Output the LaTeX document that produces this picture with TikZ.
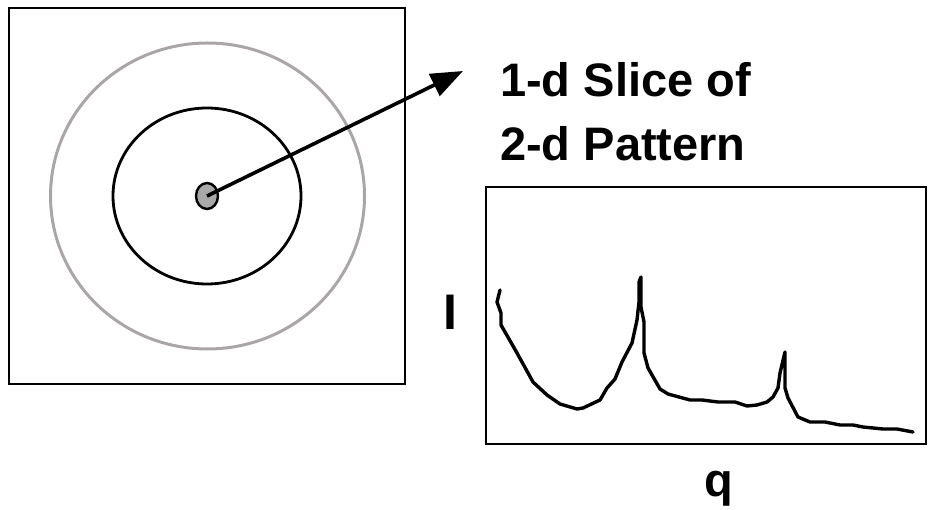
\documentclass[tikz,border=0pt]{standalone}
\usepackage{fontspec}
\setmainfont{Liberation Sans}
\usetikzlibrary{arrows.meta,shapes.geometric}
\definecolor{RingGray}{HTML}{ABA6A6}
\definecolor{SpotGray}{HTML}{A9A9A9}

\begin{document}
\begin{tikzpicture}[x=1pt,y=-1pt,>={Triangle[length=32pt,width=24pt]}]
    \useasboundingbox (0,0) rectangle (928,510);

    % ========== LEFT: 2-D PATTERN ==========
    \draw[line width=2.8pt] (9,8) rectangle (405,384);
    \draw[RingGray, line width=3pt] (207.5,196) ellipse (157 and 153);
    \draw[line width=2.8pt] (207,196) ellipse (94 and 88);
    \node[ellipse, draw, line width=2.4pt, fill=SpotGray, minimum width=22pt,
        minimum height=26pt, inner sep=0pt] (spot) at (207,196) {};

    % Title and pointer
    \node[font=\bfseries\fontsize{47}{64}\selectfont, align=left, anchor=north west,
        inner sep=0pt] (title) at (500,62) {1-d Slice of\\2-d Pattern};
    \coordinate (tip) at (463,71);
    \draw[->, line width=3.6pt] (spot.center) -- (tip);

    % ========== RIGHT: 1-D SLICE ==========
    \draw[line width=2.8pt] (486,187) rectangle (926,444);
    \draw[line width=3.4pt, line join=round, line cap=round]
        (500,290) -- (497,302) -- (501,313) -- (501,325) -- (517,353)
        -- (533,382) -- (547,395) -- (560,404) -- (577,409) -- (583,408)
        -- (600,400) -- (607,388) -- (615,379) -- (622,362) -- (632,343)
        -- (637,320) -- (639,302) -- (639,282) -- (641,277) -- (641,307)
        -- (644,322) -- (644,353) -- (648,368) -- (660,389) -- (668,394)
        -- (690,400) -- (702,400) -- (718,402) -- (735,402) -- (747,406)
        -- (757,405) -- (767,402) -- (773,397) -- (778,388) -- (780,373)
        -- (785,352) -- (785,388) -- (788,398) -- (798,417) -- (810,422)
        -- (825,422) -- (840,425) -- (853,425) -- (863,427) -- (883,429)
        -- (897,429) -- (913,432);

    % Axis labels
    \node[font=\bfseries\fontsize{50}{60}\selectfont, inner sep=0pt] (ilabel) at (450,312) {I};
    \node[font=\bfseries\fontsize{47}{60}\selectfont, inner sep=0pt, anchor=base] (qlabel) at (719,496) {q};

\end{tikzpicture}
\end{document}
